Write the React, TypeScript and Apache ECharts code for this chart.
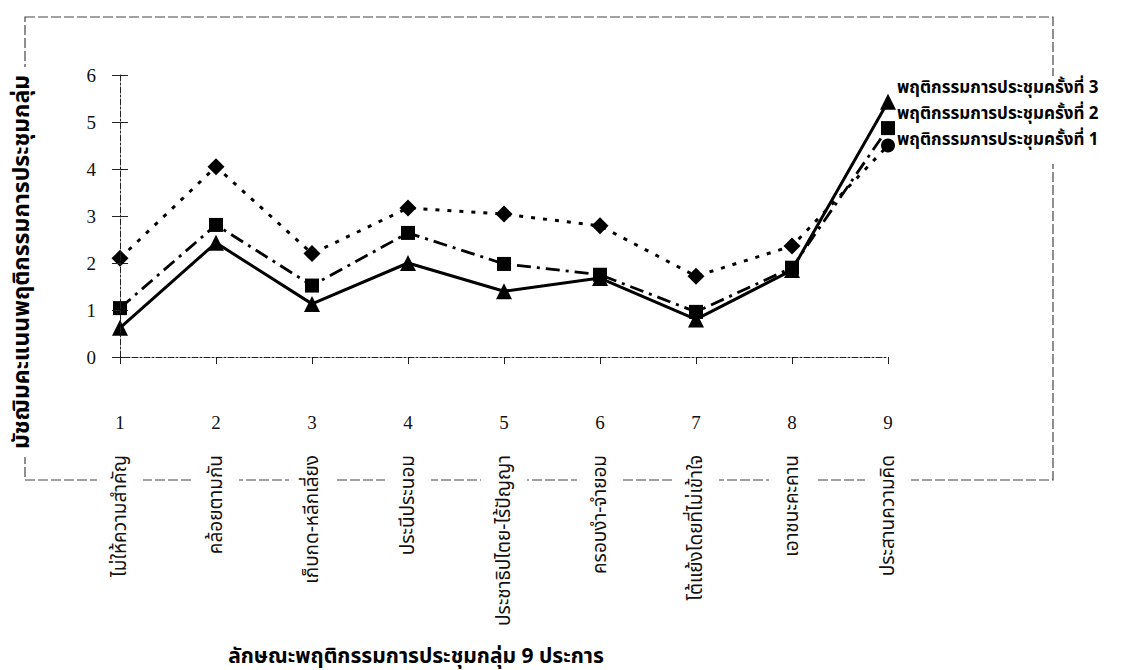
import React, { useEffect, useRef } from "react";
import * as echarts from "echarts";

const categories = ["1", "2", "3", "4", "5", "6", "7", "8", "9"];
const behaviourNames = [
  "ไม่ให้ความสำคัญ",
  "คล้อยตามกัน",
  "เก็บกด-หลีกเลี่ยง",
  "ประนีประนอม",
  "ประชาธิปไตย-ไร้ปัญญา",
  "ครอบงำ-จำยอม",
  "โต้แย้งโดยที่ไม่เข้าใจ",
  "เอาชนะคะคาน",
  "ประสานความคิด",
];
const seriesNames = [
  "พฤติกรรมการประชุมครั้งที่ 1",
  "พฤติกรรมการประชุมครั้งที่ 2",
  "พฤติกรรมการประชุมครั้งที่ 3",
];
const meeting1 = [2.1, 4.05, 2.2, 3.17, 3.04, 2.79, 1.72, 2.36, 4.5];
const meeting2 = [1.04, 2.81, 1.52, 2.64, 1.98, 1.75, 0.96, 1.9, 4.87];
const meeting3 = [0.62, 2.43, 1.13, 2.0, 1.4, 1.68, 0.8, 1.85, 5.43];
const yMin = 0;
const yMax = 6;
const yStep = 1;
const yTitle = "มัชฌิมคะแนนพฤติกรรมการประชุมกลุ่ม";
const xTitle = "ลักษณะพฤติกรรมการประชุมกลุ่ม 9 ประการ";

const THAI = "'Noto Sans Thai', 'Noto Sans', 'DejaVu Sans', sans-serif";
const SERIF = "'Liberation Serif', 'DejaVu Serif', serif";

export default function App() {
  const ref = useRef<HTMLDivElement>(null);
  useEffect(() => {
    document.body.style.margin = "0";
    const chart = echarts.init(ref.current!, undefined, { renderer: "svg" });
    const lastIdx = meeting1.length - 1;
    chart.setOption({
      animation: false,
      backgroundColor: "#fff",
      grid: { left: 120, right: 245, top: 75, bottom: 313 },
      xAxis: [
        {
          type: "category",
          data: categories,
          boundaryGap: false,
          z: 5,
          axisLine: { lineStyle: { color: "#222", width: 1, type: [6, 2, 2, 2] } },
          axisTick: { show: true, length: 7, lineStyle: { color: "#222" } },
          axisLabel: { margin: 56, fontFamily: SERIF, fontSize: 19, color: "#111" },
        },
        {
          type: "category",
          data: behaviourNames,
          boundaryGap: false,
          position: "bottom",
          z: 6,
          axisLine: { show: false },
          axisTick: { show: false },
          axisLabel: {
            rotate: 90,
            margin: 98,
            fontFamily: THAI,
            fontSize: 19,
            color: "#111",
            backgroundColor: "#fff",
            lineHeight: 46,
          },
        },
      ],
      yAxis: [
        {
          type: "value",
          min: yMin,
          max: yMax,
          interval: yStep,
          z: 5,
          splitLine: { show: false },
          axisLine: { show: true, lineStyle: { color: "#222", width: 1, type: [6, 2, 2, 2] } },
          axisTick: { show: true, length: 8, lineStyle: { color: "#222" } },
          axisLabel: { margin: 24, fontFamily: SERIF, fontSize: 19, color: "#111" },
        },
        {
          type: "value",
          min: yMin,
          max: yMax,
          interval: yStep,
          position: "left",
          splitLine: { show: false },
          axisLine: { show: false },
          axisTick: { show: true, inside: true, length: 8, lineStyle: { color: "#222" } },
          axisLabel: { show: false },
        },
      ],
      series: [
        {
          name: seriesNames[0],
          type: "line",
          data: meeting1.map((v, i) => (i === lastIdx ? { value: v, symbol: "circle", symbolSize: 14 } : v)),
          symbol: "diamond",
          symbolSize: 17,
          itemStyle: { color: "#000" },
          lineStyle: { color: "#000", width: 3, type: [4, 8] },
          z: 2,
        },
        {
          name: seriesNames[1],
          type: "line",
          data: meeting2,
          symbol: "rect",
          symbolSize: 14,
          itemStyle: { color: "#000" },
          lineStyle: { color: "#000", width: 2.8, type: [14, 6, 3, 6] },
          z: 3,
        },
        {
          name: seriesNames[2],
          type: "line",
          data: meeting3,
          symbol: "triangle",
          symbolSize: 16,
          itemStyle: { color: "#000" },
          lineStyle: { color: "#000", width: 3 },
          z: 4,
        },
      ],
      graphic: [
        {
          type: "rect",
          z: -1,
          shape: { x: 25, y: 17, width: 1028, height: 463 },
          style: { fill: "none", stroke: "#444", lineWidth: 1.2, lineDash: [10, 3] },
        },
        {
          type: "rect",
          z: 1,
          shape: { x: 1040, y: 76, width: 30, height: 88 },
          style: { fill: "#fff" },
        },
        {
          type: "text",
          z: 10,
          x: 22,
          y: 262,
          rotation: Math.PI / 2,
          style: {
            text: yTitle,
            fontFamily: THAI,
            fontSize: 23,
            fontWeight: "bold",
            fill: "#000",
            align: "center",
            verticalAlign: "middle",
            backgroundColor: "#fff",
            padding: [0, 8],
          },
        },
        {
          type: "text",
          z: 10,
          x: 416,
          y: 656,
          style: {
            text: xTitle,
            fontFamily: THAI,
            fontSize: 21,
            fontWeight: "bold",
            fill: "#000",
            align: "center",
            verticalAlign: "middle",
          },
        },
        ...[2, 1, 0].map((si, k) => ({
          type: "text",
          z: 10,
          x: 897,
          y: [88, 114, 140][k],
          style: {
            text: seriesNames[si],
            fontFamily: THAI,
            fontSize: 17,
            fontWeight: "bold",
            fill: "#000",
            align: "left",
            verticalAlign: "middle",
          },
        })),
      ],
    });
    return () => chart.dispose();
  }, []);
  return <div ref={ref} style={{ width: 1133, height: 670 }} />;
}
